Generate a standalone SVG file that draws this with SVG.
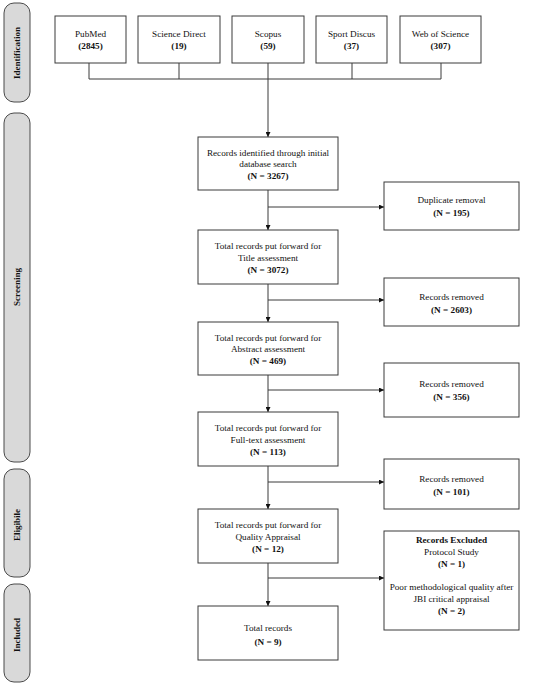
<svg xmlns="http://www.w3.org/2000/svg" width="550" height="687" viewBox="0 0 550 687">
<defs>
<style>
.box{fill:#fff;stroke:#3a3a3a;stroke-width:1}
.lane{fill:#d9d9d9;stroke:#4a4a4a;stroke-width:1}
.t{font-family:"Liberation Serif","Times New Roman",serif;font-size:9.2px;fill:#111;text-anchor:middle}
.b{font-weight:bold}
.lt{font-family:"Liberation Serif","Times New Roman",serif;font-size:9px;font-weight:bold;fill:#111;text-anchor:middle}
.ln{fill:none;stroke:#3a3a3a;stroke-width:1}
</style>
<marker id="ah" viewBox="0 0 10 10" refX="10" refY="5" markerWidth="5" markerHeight="5" orient="auto" markerUnits="userSpaceOnUse">
<path d="M0,0 L10,5 L0,10 z" fill="#111"/>
</marker>
</defs>
<rect width="550" height="687" fill="#fff"/>

<g id="lanes">
<g id="lane-identification"><rect class="lane" x="4" y="3" width="26" height="99" rx="10"/><text class="lt" transform="translate(19.5,53) rotate(-90)">Identification</text></g>
<g id="lane-screening"><rect class="lane" x="4" y="113" width="26" height="349" rx="10"/><text class="lt" transform="translate(19.5,287) rotate(-90)">Screening</text></g>
<g id="lane-eligible"><rect class="lane" x="4" y="469" width="26" height="108" rx="10"/><text class="lt" transform="translate(19.5,525) rotate(-90)">Eligibile</text></g>
<g id="lane-included"><rect class="lane" x="4" y="584" width="26" height="98" rx="10"/><text class="lt" transform="translate(19.5,635) rotate(-90)">Included</text></g>
</g>

<g id="connectors">
<path class="ln" d="M89,63 V79 M179,63 V79 M352,63 V79 M441,63 V79 M89,79 H441"/>
<path class="ln" d="M268,63 V137" marker-end="url(#ah)"/>
<path class="ln" d="M268,190 V230" marker-end="url(#ah)"/>
<path class="ln" d="M268,284 V322" marker-end="url(#ah)"/>
<path class="ln" d="M268,375 V412" marker-end="url(#ah)"/>
<path class="ln" d="M268,466 V509" marker-end="url(#ah)"/>
<path class="ln" d="M268,563 V606" marker-end="url(#ah)"/>
<path class="ln" d="M268,207 H384" marker-end="url(#ah)"/>
<path class="ln" d="M268,300 H384" marker-end="url(#ah)"/>
<path class="ln" d="M268,390 H384" marker-end="url(#ah)"/>
<path class="ln" d="M268,482 H384" marker-end="url(#ah)"/>
<path class="ln" d="M268,578 H384" marker-end="url(#ah)"/>
</g>

<g id="pubmed"><rect class="box" x="55" y="16" width="71" height="47"/><text class="t" x="90.5" y="37">PubMed</text><text class="t b" x="90.5" y="49">(2845)</text></g>
<g id="sciencedirect"><rect class="box" x="138" y="16" width="82" height="47"/><text class="t" x="179" y="37">Science Direct</text><text class="t b" x="179" y="49">(19)</text></g>
<g id="scopus"><rect class="box" x="232" y="16" width="72" height="47"/><text class="t" x="268" y="37">Scopus</text><text class="t b" x="268" y="49">(59)</text></g>
<g id="sportdiscus"><rect class="box" x="316" y="16" width="71" height="47"/><text class="t" x="351.5" y="37">Sport Discus</text><text class="t b" x="351.5" y="49">(37)</text></g>
<g id="webofscience"><rect class="box" x="400" y="16" width="81" height="47"/><text class="t" x="440.5" y="37">Web of Science</text><text class="t b" x="440.5" y="49">(307)</text></g>

<g id="identified"><rect class="box" x="198" y="137" width="140" height="53"/><text class="t" x="268" y="155.5">Records identified through initial</text><text class="t" x="268" y="167">database search</text><text class="t b" x="268" y="179">(N = 3267)</text></g>
<g id="duplicate"><rect class="box" x="384" y="182" width="135" height="48"/><text class="t" x="451.5" y="203">Duplicate removal</text><text class="t b" x="451.5" y="216">(N = 195)</text></g>

<g id="title"><rect class="box" x="198" y="230" width="140" height="54"/><text class="t" x="268" y="249">Total records put forward for</text><text class="t" x="268" y="260.5">Title assessment</text><text class="t b" x="268" y="272.5">(N = 3072)</text></g>
<g id="removed1"><rect class="box" x="384" y="278" width="135" height="48"/><text class="t" x="451.5" y="300">Records removed</text><text class="t b" x="451.5" y="312.5">(N = 2603)</text></g>

<g id="abstract"><rect class="box" x="198" y="322" width="140" height="53"/><text class="t" x="268" y="340.5">Total records put forward for</text><text class="t" x="268" y="352">Abstract assessment</text><text class="t b" x="268" y="364">(N = 469)</text></g>
<g id="removed2"><rect class="box" x="384" y="363" width="135" height="54"/><text class="t" x="451.5" y="387">Records removed</text><text class="t b" x="451.5" y="400">(N = 356)</text></g>

<g id="fulltext"><rect class="box" x="198" y="412" width="140" height="54"/><text class="t" x="268" y="431">Total records put forward for</text><text class="t" x="268" y="442.5">Full-text assessment</text><text class="t b" x="268" y="454.5">(N = 113)</text></g>
<g id="removed3"><rect class="box" x="384" y="459" width="135" height="50"/><text class="t" x="451.5" y="482">Records removed</text><text class="t b" x="451.5" y="495">(N = 101)</text></g>

<g id="quality"><rect class="box" x="198" y="509" width="140" height="54"/><text class="t" x="268" y="528">Total records put forward for</text><text class="t" x="268" y="539.5">Quality Appraisal</text><text class="t b" x="268" y="551.5">(N = 12)</text></g>
<g id="excluded"><rect class="box" x="384" y="531" width="135" height="99"/><text class="t b" x="451.5" y="543">Records Excluded</text><text class="t" x="451.5" y="555">Protocol Study</text><text class="t b" x="451.5" y="567">(N = 1)</text><text class="t" x="451.5" y="590">Poor methodological quality after</text><text class="t" x="451.5" y="602">JBI critical appraisal</text><text class="t b" x="451.5" y="614">(N = 2)</text></g>

<g id="total"><rect class="box" x="198" y="606" width="140" height="54"/><text class="t" x="268" y="631">Total records</text><text class="t b" x="268" y="645">(N = 9)</text></g>
</svg>
